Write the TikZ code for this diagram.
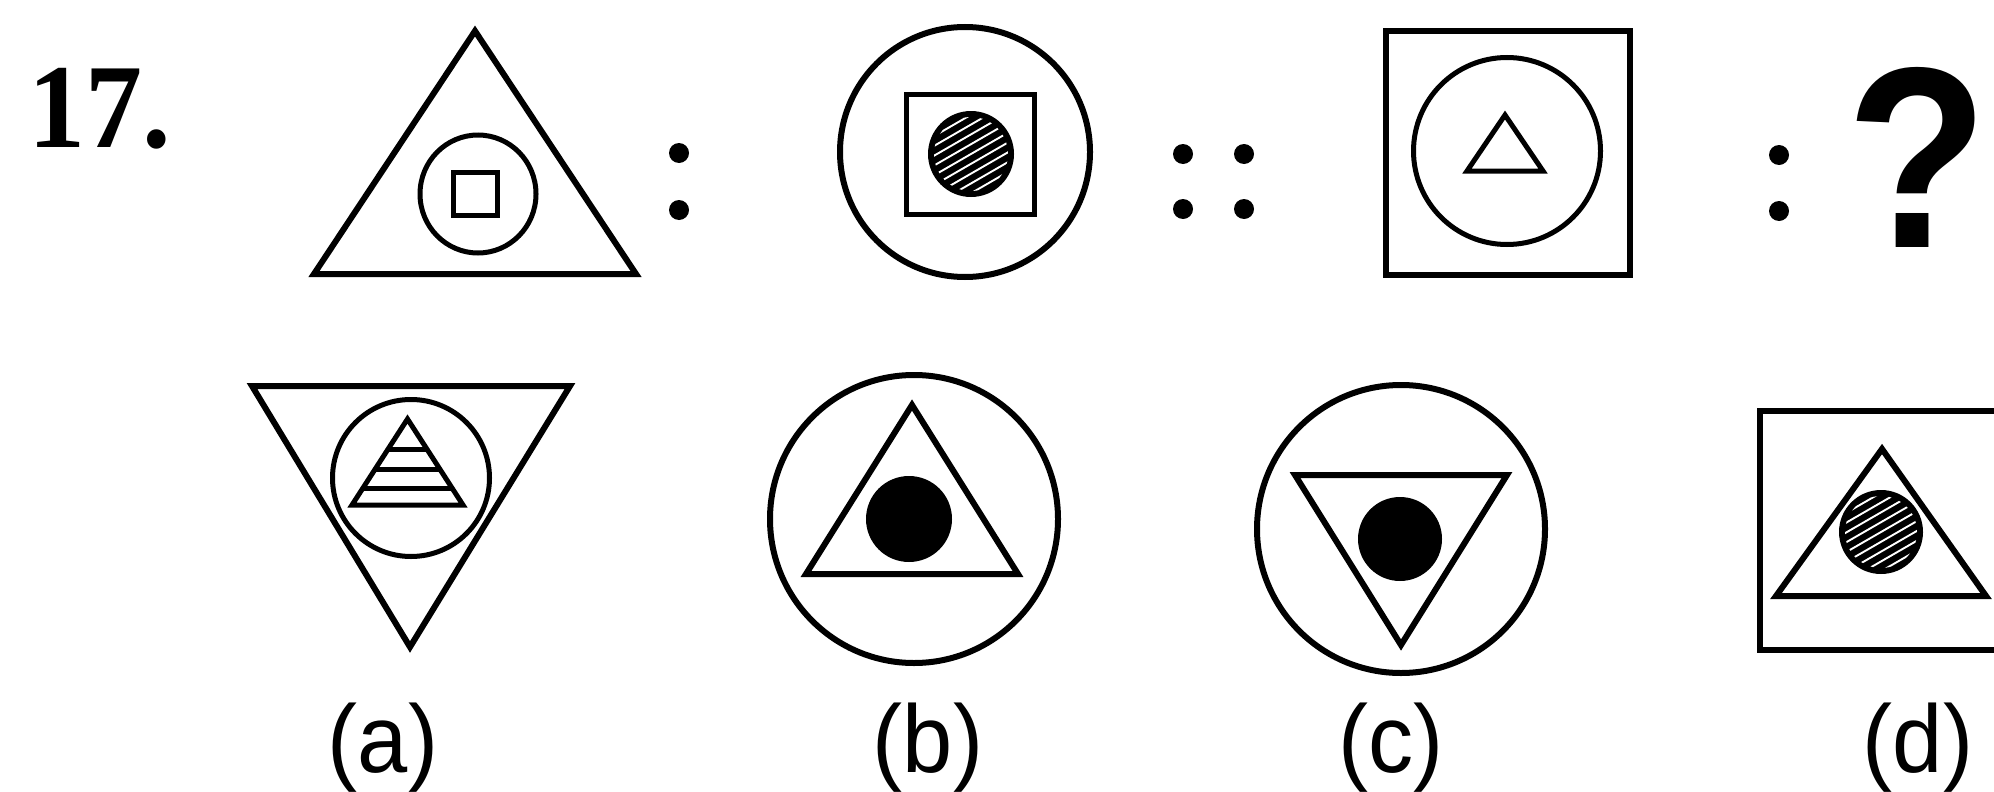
\documentclass[tikz,border=0pt]{standalone}
\usepackage{fontspec}
\newfontfamily\numfont{Liberation Serif}
\newfontfamily\labfont{Liberation Sans}
\newcommand\hatchdisc[3]{%
  \fill (#1,#2) circle[radius=#3pt];
  \begin{scope}
    \clip (#1,#2) circle[radius=#3pt-6pt];
    \begin{scope}[shift={(#1,#2)}, rotate=30]
      \foreach \k in {-6,...,6}{\draw[hatchln] (-70,\k*8.5) -- (70,\k*8.5);}
    \end{scope}
  \end{scope}}
\tikzset{
  outl/.style={line width=6pt},
  inl/.style={line width=5pt},
  hatchln/.style={white, line width=1.9pt},
  numlbl/.style={font=\numfont\bfseries\fontsize{120}{130}\selectfont, inner sep=0pt, anchor=base west},
  qlbl/.style={font=\labfont\bfseries\fontsize{258}{270}\selectfont, inner sep=0pt, anchor=base},
  optlbl/.style={font=\labfont\fontsize{96}{100}\selectfont, inner sep=0pt, anchor=base},
}
\begin{document}
\begin{tikzpicture}[x=1pt,y=-1pt]
\useasboundingbox (0,0) rectangle (1994,792);
\clip (0,0) rectangle (1994,792);

% question number
\node[numlbl] (num) at (28,147) {\scalebox{0.95}[1]{17.}};

% figure 1
\draw[outl] (475,31) -- (636,274) -- (314,274) -- cycle;
\draw[inl] (478,194) ellipse[x radius=58pt, y radius=59pt];
\draw[inl] (453.5,172.5) rectangle (497.5,215.5);

% colon 1
\fill (679,153) circle[radius=10pt];
\fill (679,210) circle[radius=10pt];

% figure 2
\draw[outl] (965,152) circle[radius=125pt];
\draw[inl] (906.5,94.5) rectangle (1034.5,214.5);
\hatchdisc{971}{154}{43}

% double colon
\fill (1183,154) circle[radius=10pt];
\fill (1183,209) circle[radius=10pt];
\fill (1244,154) circle[radius=10pt];
\fill (1244,209) circle[radius=10pt];

% figure 3
\draw[outl] (1386,31) rectangle (1630,275);
\draw[inl] (1507,151) circle[radius=93.5pt];
\draw[inl] (1505,115) -- (1543,171) -- (1467,171) -- cycle;

% colon 3
\fill (1779,155) circle[radius=10pt];
\fill (1779,211) circle[radius=10pt];

% question mark
\node[qlbl] (q) at (1917,247) {\scalebox{0.9}[1]{?}};

% option (a)
\draw[outl] (252,386) -- (570,386) -- (410,647) -- cycle;
\draw[inl] (411,478) circle[radius=78.5pt];
\draw[inl] (407.5,419) -- (463,505) -- (352,505) -- cycle;
\draw[inl] (388.1,449) -- (426.9,449);
\draw[inl] (375.2,469) -- (439.8,469);
\draw[inl] (363,488) -- (452,488);

% option (b)
\draw[outl] (914,519) circle[radius=144pt];
\draw[outl] (912,405) -- (1018,574) -- (806,574) -- cycle;
\fill (909,519) circle[radius=43pt];

% option (c)
\draw[outl] (1401,529) circle[radius=144pt];
\draw[outl] (1295,475) -- (1507,475) -- (1401,645) -- cycle;
\fill (1400,539) circle[radius=42pt];

% option (d)
\draw[outl] (1760,411) rectangle (2030,650);
\draw[outl] (1882,449) -- (1986,596) -- (1776,596) -- cycle;
\hatchdisc{1881}{532}{42}

% labels
\node[optlbl] (la) at (383,772) {\scalebox{0.94}[1]{(a)}};
\node[optlbl] (lb) at (928,772) {\scalebox{0.94}[1]{(b)}};
\node[optlbl] (lc) at (1391,772) {\scalebox{0.94}[1]{(c)}};
\node[optlbl] (ld) at (1918,772) {\scalebox{0.94}[1]{(d)}};
\end{tikzpicture}
\end{document}
